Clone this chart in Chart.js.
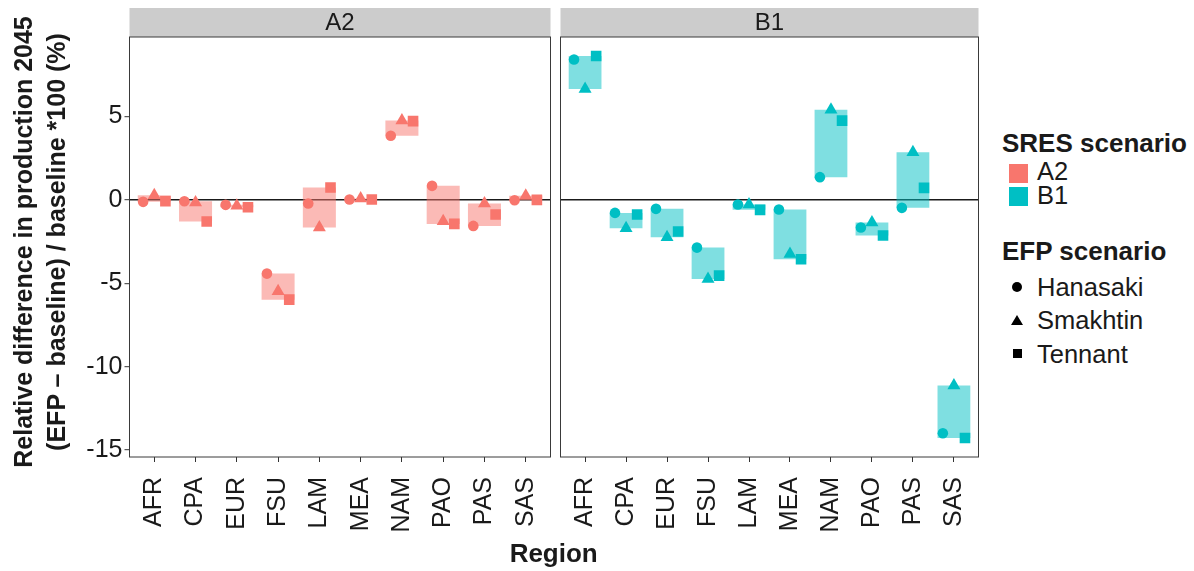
<!DOCTYPE html>
<html lang="en">

<head>
    <meta charset="UTF-8">
    <title>EFP production difference 2045</title>
    <script src="https://cdn.jsdelivr.net/npm/chart.js"></script>
    <style>
        body { margin: 0; background: #fff; color: #1a1a1a; font-family: "Liberation Sans", Arial, sans-serif; }
        #wrap { position: relative; width: 1194px; height: 571px; overflow: hidden; }
        canvas { position: absolute; top: 0; }
        .txt { position: absolute; white-space: nowrap; font-size: 25.5px; line-height: 26px; }
        .ttl { position: absolute; white-space: nowrap; font-size: 26px; line-height: 26px; font-weight: bold; }
        #ytitle { position: absolute; left: -200.5px; top: 209px; width: 480px; height: 66px;
                  font-size: 25px; line-height: 33px; font-weight: bold; text-align: center;
                  white-space: nowrap; transform: rotate(-90deg); }
        #xtitle { left: 453.7px; top: 540px; width: 200px; text-align: center; }
        .key { position: absolute; width: 19px; height: 19px; }
        .sym { position: absolute; background: #000; }
    </style>
</head>

<body>
<div id="wrap">
    <canvas id="panelA2" width="560" height="571" style="left:0"></canvas>
    <canvas id="panelB1" width="440" height="571" style="left:553px"></canvas>

    <div id="ytitle">Relative difference in production 2045<br>(EFP – baseline) / baseline *100 (%)</div>
    <div id="xtitle" class="ttl">Region</div>

    <!-- legend -->
    <div class="ttl" style="left:1002px; top:130px">SRES scenario</div>
    <div class="key" style="left:1009px; top:164px; background:#F8766D"></div>
    <div class="txt" style="left:1037px; top:158px">A2</div>
    <div class="key" style="left:1009px; top:187px; background:#00BFC4"></div>
    <div class="txt" style="left:1037px; top:182px">B1</div>

    <div class="ttl" style="left:1002px; top:238px">EFP scenario</div>
    <div class="sym" style="left:1012px; top:282px; width:10px; height:10px; border-radius:50%"></div>
    <div class="txt" style="left:1037px; top:274px">Hanasaki</div>
    <div class="sym" style="left:1011px; top:315px; width:0; height:0; background:none;
         border-left:6px solid transparent; border-right:6px solid transparent; border-bottom:10px solid #000"></div>
    <div class="txt" style="left:1037px; top:307px">Smakhtin</div>
    <div class="sym" style="left:1012.5px; top:348.5px; width:9px; height:9px"></div>
    <div class="txt" style="left:1037px; top:341px">Tennant</div>
</div>

<script>
    // regions on the x axis (same for both facets)
    var regions = ["AFR", "CPA", "EUR", "FSU", "LAM", "MEA", "NAM", "PAO", "PAS", "SAS"];

    // SRES A2, relative difference (%) per EFP method
    var a2Hanasaki = [-0.12, -0.08, -0.30, -4.42, -0.22, 0.02, 3.84, 0.84, -1.56, -0.02];
    var a2Smakhtin = [0.28, -0.16, -0.36, -5.47, -1.66, 0.08, 4.75, -1.28, -0.22, 0.24];
    var a2Tennant = [-0.08, -1.30, -0.44, -5.98, 0.74, 0.02, 4.72, -1.44, -0.88, 0.00];

    // SRES B1
    var b1Hanasaki = [8.41, -0.78, -0.54, -2.86, -0.28, -0.58, 1.36, -1.66, -0.48, -13.99];
    var b1Smakhtin = [6.64, -1.70, -2.24, -4.74, -0.28, -3.24, 5.40, -1.36, 2.86, -11.13];
    var b1Tennant = [8.62, -0.88, -1.90, -4.54, -0.60, -3.56, 4.75, -2.14, 0.72, -14.27];

    var Y_MIN = -15.41;
    var Y_MAX = 9.76;
    var DODGE = 0.27;
    var FONT = '"Liberation Sans", Arial, sans-serif';

    Chart.defaults.font.family = FONT;
    Chart.defaults.color = "#1a1a1a";

    // grey strip with facet label + panel frame
    var facetPlugin = {
        id: "facet",
        beforeDraw: function (chart, args, opts) {
            var a = chart.chartArea, ctx = chart.ctx;
            ctx.save();
            ctx.fillStyle = "#cccccc";
            ctx.fillRect(a.left, opts.top, a.right - a.left, a.top - opts.top);
            ctx.fillStyle = "#1a1a1a";
            ctx.font = "24px " + FONT;
            ctx.textAlign = "center";
            ctx.textBaseline = "middle";
            ctx.fillText(opts.label, (a.left + a.right) / 2, (opts.top + a.top) / 2 + 1);
            ctx.restore();
        },
        afterDraw: function (chart) {
            var a = chart.chartArea, ctx = chart.ctx;
            ctx.save();
            ctx.strokeStyle = "#3a3a3a";
            ctx.lineWidth = 1;
            ctx.strokeRect(a.left, a.top, a.right - a.left, a.bottom - a.top);
            ctx.restore();
        }
    };

    function points(values, shift) {
        return values.map(function (v, i) { return { x: i + shift, y: v }; });
    }

    function makePanel(id, label, colour, fill, hanasaki, smakhtin, tennant, showY, pad) {
        var ranges = regions.map(function (r, i) {
            var vals = [hanasaki[i], smakhtin[i], tennant[i]];
            return { x: i, y: [Math.min.apply(null, vals), Math.max.apply(null, vals)] };
        });

        return new Chart(id, {
            type: "scatter",
            data: {
                datasets: [
                    {
                        type: "bar", label: "range", data: ranges,
                        backgroundColor: fill, borderWidth: 0,
                        barPercentage: 0.8, categoryPercentage: 1, order: 2
                    },
                    {
                        label: "Hanasaki", data: points(hanasaki, -DODGE),
                        pointStyle: "circle", pointRadius: 5.3,
                        backgroundColor: colour, borderWidth: 0, order: 1
                    },
                    {
                        label: "Smakhtin", data: points(smakhtin, 0),
                        pointStyle: "triangle", pointRadius: 7.5,
                        backgroundColor: colour, borderWidth: 0, order: 1
                    },
                    {
                        label: "Tennant", data: points(tennant, DODGE),
                        pointStyle: "rect", pointRadius: 7.5,
                        backgroundColor: colour, borderWidth: 0, order: 1
                    }
                ]
            },
            options: {
                responsive: false,
                animation: false,
                devicePixelRatio: 1,
                events: [],
                layout: { padding: pad },
                plugins: {
                    legend: { display: false },
                    tooltip: { enabled: false },
                    facet: { label: label, top: 8 }
                },
                scales: {
                    x: {
                        type: "linear", min: -0.6, max: 9.6, offset: false,
                        afterFit: function (s) { s.height = 80; s.paddingLeft = 0; s.paddingRight = 0; },
                        border: { display: false },
                        grid: { offset: false, drawOnChartArea: false, tickLength: 5, tickColor: "#333", tickWidth: 1 },
                        ticks: {
                            stepSize: 1, includeBounds: false, autoSkip: false,
                            minRotation: 90, maxRotation: 90, padding: 15,
                            font: { size: 25 }, color: "#1a1a1a",
                            callback: function (v) { return regions[Math.round(v)]; }
                        }
                    },
                    y: {
                        type: "linear", min: Y_MIN, max: Y_MAX, beginAtZero: false,
                        afterFit: function (s) { s.width = showY ? 60 : 0; s.paddingTop = 0; s.paddingBottom = 0; },
                        border: { display: false },
                        grid: {
                            color: function (c) { return c.tick && c.tick.value === 0 ? "#1a1a1a" : "rgba(0,0,0,0)"; },
                            lineWidth: 1.4,
                            drawTicks: showY, tickLength: 5, tickColor: "#333", tickWidth: 1
                        },
                        ticks: {
                            display: showY, stepSize: 5, includeBounds: false, padding: 2,
                            font: { size: 25 }, color: "#1a1a1a"
                        }
                    }
                }
            },
            plugins: [facetPlugin]
        });
    }

    makePanel("panelA2", "A2", "#F8766D", "rgba(248,118,109,0.5)",
        a2Hanasaki, a2Smakhtin, a2Tennant, true,
        { left: 69.5, right: 9.5, top: 37, bottom: 34 });

    makePanel("panelB1", "B1", "#00BFC4", "rgba(0,191,196,0.5)",
        b1Hanasaki, b1Smakhtin, b1Tennant, false,
        { left: 4.5, right: 14.5, top: 37, bottom: 34 });
</script>
</body>

</html>
